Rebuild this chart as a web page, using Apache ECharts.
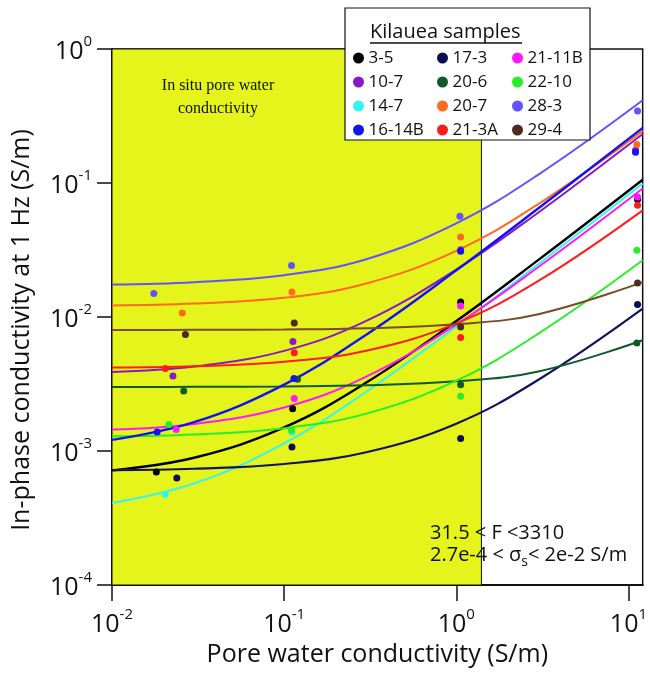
<!DOCTYPE html>
<html><head><meta charset="utf-8">
<script src="https://cdn.jsdelivr.net/npm/echarts@6/dist/echarts.min.js"></script>
<style>html,body{margin:0;padding:0;background:#fff}#c{width:650px;height:677px}</style>
</head><body><div id="c"></div>
<script>
const FONT = "'Open Sans', 'Noto Sans', sans-serif";
const samples = ['3-5','10-7','14-7','16-14B','17-3','20-6','20-7','21-3A','21-11B','22-10','28-3','29-4'];
const pointColors = {'3-5':'#000000','10-7':'#8a18c8','14-7':'#38f4f0','16-14B':'#1212f5','17-3':'#0c0c55','20-6':'#0f5a2a','20-7':'#ff6a1c','21-3A':'#ff1c1c','21-11B':'#ff18ff','22-10':'#28ee28','28-3':'#6252ff','29-4':'#4e2a22'};
const lineColors = {'3-5':'#000000','10-7':'#8a18c8','14-7':'#38f4f0','16-14B':'#1212f5','17-3':'#121260','20-6':'#0f5a2a','20-7':'#ff6a1c','21-3A':'#ff1c1c','21-11B':'#ff18ff','22-10':'#28ee28','28-3':'#6252ff','29-4':'#7c4a26'};
const xTicks = [0.0100001, 0.1, 1, 10];
const yTicks = [0.0001000001, 0.001, 0.01, 0.1, 0.9999999];
const inSituMax = 1.4;
const fitX = [0.01, 0.03, 0.1, 0.3, 1, 3, 12.1];
const fitY = {
  '3-5':   [0.000717, 0.000891, 0.0015, 0.00324, 0.00933, 0.0267, 0.1058],
  '17-3':  [0.00072, 0.000737, 0.0008, 0.000979, 0.0016, 0.0034, 0.01154],
  '21-11B':[0.001444, 0.001592, 0.00211, 0.00359, 0.00878, 0.0236, 0.091],
  '10-7':  [0.00389, 0.00427, 0.00559, 0.00936, 0.0226, 0.0603, 0.232],
  '20-6':  [0.003, 0.00301, 0.00303, 0.00309, 0.00331, 0.00392, 0.0067],
  '22-10': [0.00129, 0.00133, 0.00148, 0.0019, 0.00335, 0.00752, 0.0265],
  '14-7':  [0.00041, 0.000572, 0.00114, 0.00277, 0.00848, 0.0248, 0.0989],
  '20-7':  [0.0122, 0.0126, 0.0139, 0.0178, 0.0312, 0.0697, 0.245],
  '28-3':  [0.0175, 0.0182, 0.0205, 0.027, 0.05, 0.1156, 0.414],
  '16-14B':[0.00121, 0.00164, 0.00313, 0.00738, 0.0223, 0.0648, 0.258],
  '21-3A': [0.0042, 0.00429, 0.00463, 0.0056, 0.00897, 0.0186, 0.0625],
  '29-4':  [0.008, 0.00802, 0.00807, 0.00824, 0.00883, 0.0105, 0.0182]
};
const points = {
  '14-7':  [[0.0204,0.000473],[0.111,0.00138],[1.06,0.0125],[11.3,0.077]],
  '3-5':   [[0.0181,0.000697],[0.112,0.00207],[1.06,0.01294],[11.3,0.0752]],
  '17-3':  [[0.0238,0.000629],[0.111,0.00107],[1.06,0.00124],[11.3,0.0124]],
  '21-11B':[[0.0236,0.001445],[0.1145,0.00246],[1.06,0.0121],[11.3,0.0786]],
  '10-7':  [[0.0226,0.00363],[0.1125,0.00655],[1.06,0.0318],[11.0,0.1754]],
  '20-6':  [[0.0261,0.0028],[0.1196,0.00343],[1.06,0.00312],[11.2,0.0064]],
  '22-10': [[0.0214,0.00158],[0.1104,0.001426],[1.06,0.00256],[11.2,0.0315]],
  '20-7':  [[0.0256,0.01071],[0.111,0.01537],[1.06,0.0395],[11.2,0.1935]],
  '28-3':  [[0.0175,0.01495],[0.1104,0.0242],[1.05,0.0564],[11.3,0.344]],
  '16-14B':[[0.0183,0.001386],[0.114,0.00347],[1.06,0.0309],[11.0,0.1695]],
  '21-3A': [[0.0204,0.00412],[0.1145,0.00542],[1.06,0.00702],[11.3,0.0682]],
  '29-4':  [[0.0267,0.0074],[0.1145,0.00902],[1.06,0.00842],[11.3,0.01795]]
};
const drawOrder = ['14-7','3-5','17-3','21-11B','10-7','20-6','22-10','20-7','28-3','16-14B','21-3A','29-4'];
const thick = {'3-5':2.4,'16-14B':2.4,'17-3':2.2};

function expLabel(v){
  const e = Math.round(Math.log10(v));
  if (Math.abs(Math.log10(v) - e) > 0.01) return '';
  return '{b|10}{e|' + e + '}';
}
const labelRich = {
  b:{fontSize:25, fontFamily:FONT, color:'#111', lineHeight:30, verticalAlign:'bottom'},
  e:{fontSize:15, fontFamily:FONT, color:'#111', lineHeight:16, verticalAlign:'top'}
};

const series = [];
series.push({
  type:'line', name:'bg', data:[], silent:true, z:1,
  markArea:{silent:true, itemStyle:{color:'#e5f51c', borderColor:'#111', borderWidth:1},
    data:[[{xAxis:0.01, yAxis:0.0001},{xAxis:inSituMax, yAxis:1}]]}
});
drawOrder.forEach(s => {
  series.push({
    type:'line', name:s+' fit', data: fitX.map((x,i)=>[x, fitY[s][i]]),
    smooth:0.4, showSymbol:false, silent:true, z:3,
    lineStyle:{color:lineColors[s], width: thick[s] || 2}, itemStyle:{color:lineColors[s]}
  });
});
drawOrder.forEach(s => {
  series.push({
    type:'scatter', name:s, data: points[s], symbol:'circle', symbolSize:7, z:4,
    itemStyle:{color:pointColors[s], opacity:1}
  });
});

const legendCols = [0,1,2].map(c => ({
  data: samples.slice(c*4, c*4+4).map(n => ({name:n, icon:'circle'})),
  orient:'vertical', left:[353,437,512][c], top:48, padding:0,
  itemWidth:12, itemHeight:11, itemGap:4, selectedMode:false, z:10,
  textStyle:{fontFamily:FONT, fontSize:17, color:'#111', lineHeight:20, padding:[0,0,0,-1]}
}));

const option = {
  animation:false,
  backgroundColor:'#fff',
  grid:{left:112, right:2, top:49, bottom:92, show:true, borderColor:'#111', borderWidth:1.5, backgroundColor:'transparent', z:0},
  xAxis:{type:'log', logBase:10, min:0.01, max:12.1,
    name:'Pore water conductivity (S/m)', nameLocation:'middle', nameGap:50,
    nameTextStyle:{fontFamily:FONT, fontSize:25, color:'#111'},
    axisLine:{show:true, lineStyle:{color:'#111', width:2}},
    axisTick:{show:true, inside:false, length:16, lineStyle:{color:'#111', width:1.5}, customValues:xTicks},
    axisLabel:{margin:22, formatter:expLabel, rich:labelRich, customValues:xTicks},
    splitLine:{show:false}, minorTick:{show:false}
  },
  yAxis:{type:'log', logBase:10, min:0.0001, max:1,
    name:'In-phase conductivity at 1 Hz (S/m)', nameLocation:'middle', nameGap:78,
    nameTextStyle:{fontFamily:FONT, fontSize:25, color:'#111', padding:[0,26,0,0]},
    axisLine:{show:true, lineStyle:{color:'#111', width:2}},
    axisTick:{show:true, inside:false, length:15, lineStyle:{color:'#111', width:1.5}, customValues:yTicks},
    axisLabel:{margin:20, formatter:expLabel, rich:labelRich, customValues:yTicks},
    splitLine:{show:false}, minorTick:{show:false}
  },
  legend: legendCols,
  graphic:[
    {type:'rect', z:8, shape:{x:345, y:8, width:245, height:132}, style:{fill:'#fff', stroke:'#111', lineWidth:1.2}},
    {type:'text', z:9, x:370, y:32, style:{text:'Kilauea samples', fontFamily:FONT, fontSize:20, fill:'#111', verticalAlign:'middle'}},
    {type:'line', z:9, shape:{x1:370, y1:43, x2:522, y2:43}, style:{stroke:'#111', lineWidth:1.3}},
    {type:'text', z:9, x:218, y:97, style:{text:'In situ pore water\nconductivity', fontFamily:"'Liberation Serif', serif", fontSize:16, lineHeight:23, fill:'#111', align:'center', verticalAlign:'middle'}},
    {type:'text', z:9, x:430, y:533, style:{text:'31.5 < F <3310', fontFamily:FONT, fontSize:20, fill:'#111', verticalAlign:'middle'}},
    {type:'text', z:9, x:430, y:557, style:{text:'{a|2.7e-4 < σ}{s|s}{a|< 2e-2 S/m}', verticalAlign:'middle',
      rich:{a:{fontFamily:FONT, fontSize:20, fill:'#111', lineHeight:24, verticalAlign:'top'}, s:{fontFamily:FONT, fontSize:14, fill:'#111', lineHeight:24, verticalAlign:'bottom', padding:[9,0,0,0]}}}}
  ],
  series: series
};
const chart = echarts.init(document.getElementById('c'), null, {renderer:'canvas'});
chart.setOption(option);
</script></body></html>
